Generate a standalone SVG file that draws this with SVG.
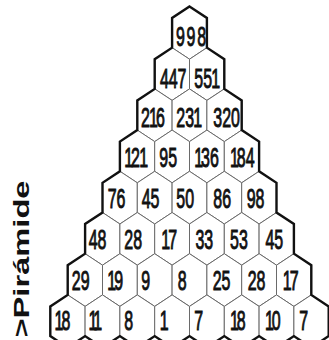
<svg xmlns="http://www.w3.org/2000/svg" xmlns:xlink="http://www.w3.org/1999/xlink" width="329" height="340" viewBox="0 0 329 340">
<style>
.h{fill:#fff;stroke:#6a6a6a;stroke-width:1}
.n{font-family:"Liberation Sans",Arial,sans-serif;font-size:28.5px;fill:#111;stroke:#111;stroke-width:1}
.o{fill:none;stroke:#111;stroke-width:2.4;stroke-linejoin:miter}
.lab{font-family:"Liberation Sans",Arial,sans-serif;font-size:21.5px;font-weight:bold;fill:#111}
</style>
<defs>
<polygon id="hex" points="0,0 17.4,11.5 17.4,41.2 0,52.7 -17.4,41.2 -17.4,11.5"/>
</defs>
<rect width="329" height="340" fill="#fff"/>
<g id="nodes">
<g id="r0-0"><use href="#hex" class="h" x="189.5" y="6.5"/><text class="n" transform="scale(0.56 1)" x="314.4" y="46.5" dx="0 3 3">998</text></g>

<g id="r1-0"><use href="#hex" class="h" x="172.1" y="47.7"/><text class="n" transform="scale(0.56 1)" x="285.5" y="88">447</text></g>
<g id="r1-1"><use href="#hex" class="h" x="206.9" y="47.7"/><text class="n" transform="scale(0.56 1)" x="347.1" y="88" dx="0 0 -1.5">551</text></g>

<g id="r2-0"><use href="#hex" class="h" x="154.7" y="88.9"/><text class="n" transform="scale(0.56 1)" x="251.9" y="127" dx="0 -1.5 -3.6">216</text></g>
<g id="r2-1"><use href="#hex" class="h" x="189.5" y="88.9"/><text class="n" transform="scale(0.56 1)" x="314.9" y="127" dx="0 0 -1.5">231</text></g>
<g id="r2-2"><use href="#hex" class="h" x="224.3" y="88.9"/><text class="n" transform="scale(0.56 1)" x="381" y="127">320</text></g>

<g id="r3-0"><use href="#hex" class="h" x="137.3" y="130.1"/><text class="n" transform="scale(0.56 1)" x="221.9" y="167" dx="0 -3.6 -1.5">121</text></g>
<g id="r3-1"><use href="#hex" class="h" x="172.1" y="130.1"/><text class="n" transform="scale(0.56 1)" x="284.6" y="167">95</text></g>
<g id="r3-2"><use href="#hex" class="h" x="206.9" y="130.1"/><text class="n" transform="scale(0.56 1)" x="346.9" y="167" dx="0 -3.6 0">136</text></g>
<g id="r3-3"><use href="#hex" class="h" x="241.7" y="130.1"/><text class="n" transform="scale(0.56 1)" x="410.7" y="167" dx="0 -3.6 0">184</text></g>

<g id="r4-0"><use href="#hex" class="h" x="119.9" y="171.3"/><text class="n" transform="scale(0.56 1)" x="192.3" y="208">76</text></g>
<g id="r4-1"><use href="#hex" class="h" x="154.7" y="171.3"/><text class="n" transform="scale(0.56 1)" x="253" y="208">45</text></g>
<g id="r4-2"><use href="#hex" class="h" x="189.5" y="171.3"/><text class="n" transform="scale(0.56 1)" x="314.9" y="208">50</text></g>
<g id="r4-3"><use href="#hex" class="h" x="224.3" y="171.3"/><text class="n" transform="scale(0.56 1)" x="381" y="208">86</text></g>
<g id="r4-4"><use href="#hex" class="h" x="259.1" y="171.3"/><text class="n" transform="scale(0.56 1)" x="440.5" y="208">98</text></g>

<g id="r5-0"><use href="#hex" class="h" x="102.5" y="212.5"/><text class="n" transform="scale(0.56 1)" x="158.3" y="249">48</text></g>
<g id="r5-1"><use href="#hex" class="h" x="137.3" y="212.5"/><text class="n" transform="scale(0.56 1)" x="222.1" y="249">28</text></g>
<g id="r5-2"><use href="#hex" class="h" x="172.1" y="212.5"/><text class="n" transform="scale(0.56 1)" x="288" y="249" dx="0 -3.6">17</text></g>
<g id="r5-3"><use href="#hex" class="h" x="206.9" y="212.5"/><text class="n" transform="scale(0.56 1)" x="348.9" y="249">33</text></g>
<g id="r5-4"><use href="#hex" class="h" x="241.7" y="212.5"/><text class="n" transform="scale(0.56 1)" x="410.8" y="249">53</text></g>
<g id="r5-5"><use href="#hex" class="h" x="276.5" y="212.5"/><text class="n" transform="scale(0.56 1)" x="473.9" y="249">45</text></g>

<g id="r6-0"><use href="#hex" class="h" x="85.1" y="253.7"/><text class="n" transform="scale(0.56 1)" x="128.3" y="290">29</text></g>
<g id="r6-1"><use href="#hex" class="h" x="119.9" y="253.7"/><text class="n" transform="scale(0.56 1)" x="191.6" y="290" dx="0 -3.6">19</text></g>
<g id="r6-2"><use href="#hex" class="h" x="154.7" y="253.7"/><text class="n" transform="scale(0.56 1)" x="252.4" y="290">9</text></g>
<g id="r6-3"><use href="#hex" class="h" x="189.5" y="253.7"/><text class="n" transform="scale(0.56 1)" x="317.3" y="290">8</text></g>
<g id="r6-4"><use href="#hex" class="h" x="224.3" y="253.7"/><text class="n" transform="scale(0.56 1)" x="379.8" y="290">25</text></g>
<g id="r6-5"><use href="#hex" class="h" x="259.1" y="253.7"/><text class="n" transform="scale(0.56 1)" x="442.3" y="290">28</text></g>
<g id="r6-6"><use href="#hex" class="h" x="293.9" y="253.7"/><text class="n" transform="scale(0.56 1)" x="505" y="290" dx="0 -3.6">17</text></g>

<g id="r7-0"><use href="#hex" class="h" x="67.7" y="294.9"/><text class="n" transform="scale(0.56 1)" x="97.5" y="330" dx="0 -3.6">18</text></g>
<g id="r7-1"><use href="#hex" class="h" x="102.5" y="294.9"/><text class="n" transform="scale(0.56 1)" x="158.2" y="330" dx="0 -5.5">11</text></g>
<g id="r7-2"><use href="#hex" class="h" x="137.3" y="294.9"/><text class="n" transform="scale(0.56 1)" x="222.1" y="330">8</text></g>
<g id="r7-3"><use href="#hex" class="h" x="172.1" y="294.9"/><text class="n" transform="scale(0.56 1)" x="285.3" y="330">1</text></g>
<g id="r7-4"><use href="#hex" class="h" x="206.9" y="294.9"/><text class="n" transform="scale(0.56 1)" x="347.1" y="330">7</text></g>
<g id="r7-5"><use href="#hex" class="h" x="241.7" y="294.9"/><text class="n" transform="scale(0.56 1)" x="410.7" y="330" dx="0 -3.6">18</text></g>
<g id="r7-6"><use href="#hex" class="h" x="276.5" y="294.9"/><text class="n" transform="scale(0.56 1)" x="473.2" y="330" dx="0 -3.6">10</text></g>
<g id="r7-7"><use href="#hex" class="h" x="311.3" y="294.9"/><text class="n" transform="scale(0.56 1)" x="534.6" y="330">7</text></g>
</g>
<g id="outline">
<path class="o" d="M189.5,6.5 L206.9,18 L206.9,47.7 L224.3,59.2 L224.3,88.9 L241.7,100.4 L241.7,130.1 L259.1,141.6 L259.1,171.3 L276.5,182.8 L276.5,212.5 L293.9,224 L293.9,253.7 L311.3,265.2 L311.3,294.9 L328.7,306.4 L328.7,336.1 L311.3,347.6 L293.9,336.1 L276.5,347.6 L259.1,336.1 L241.7,347.6 L224.3,336.1 L206.9,347.6 L189.5,336.1 L172.1,347.6 L154.7,336.1 L137.3,347.6 L119.9,336.1 L102.5,347.6 L85.1,336.1 L67.7,347.6 L50.3,336.1 L50.3,306.4 L67.7,294.9 L67.7,265.2 L85.1,253.7 L85.1,224 L102.5,212.5 L102.5,182.8 L119.9,171.3 L119.9,141.6 L137.3,130.1 L137.3,100.4 L154.7,88.9 L154.7,59.2 L172.1,47.7 L172.1,18 Z"/>
</g>
<g id="label">
<text class="lab" transform="translate(28.5,337.5) rotate(-90)" x="0" y="0" textLength="157" lengthAdjust="spacingAndGlyphs">&gt;Pirámide</text>
</g>
</svg>
